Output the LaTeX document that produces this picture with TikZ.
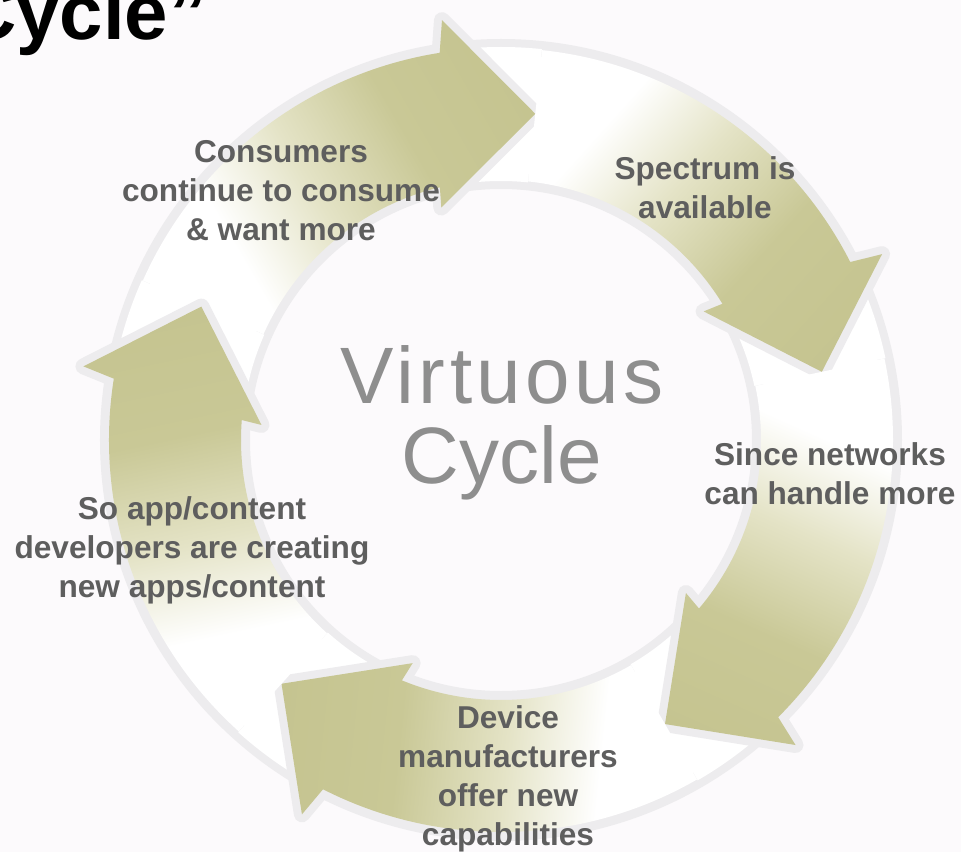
\documentclass[tikz,border=0pt]{standalone}
\usepackage{fontspec}
\setmainfont{Liberation Sans}
\definecolor{bg}{RGB}{252,250,252}
\definecolor{ringgrey}{RGB}{237,236,238}
\definecolor{olv}{RGB}{201,200,150}
\definecolor{olvlight}{RGB}{228,227,198}
\definecolor{olvdark}{RGB}{197,196,144}
\definecolor{lblgrey}{RGB}{94,94,94}
\definecolor{hubgrey}{RGB}{142,142,142}
% fade along each arrow: white at the tail, olive towards the head
\pgfdeclarehorizontalshading{arrowfade}{100bp}{color(0bp)=(white); color(40.2bp)=(white); color(47.2bp)=(olvlight); color(55.1bp)=(olv); color(64bp)=(olvdark); color(100bp)=(olvdark)}
\begin{document}
\begin{tikzpicture}[
  halo/.style={draw=ringgrey, line width=16pt, line join=round},
  lbl/.style={text=lblgrey, font=\bfseries\fontsize{31.6pt}{39pt}\selectfont, align=center, inner sep=0pt, anchor=base},
  hub/.style={text=hubgrey, font=\fontsize{80pt}{80pt}\selectfont, align=center, inner sep=0pt, anchor=base},
]
\useasboundingbox (-501pt,-412pt) rectangle (460pt,440pt);
\fill[bg] (-501pt,-412pt) rectangle (460pt,440pt);
% ring behind the arrows
\draw[ringgrey, line width=150pt] (0,0) circle[radius=326pt];
\draw[white, line width=134pt] (0,0) circle[radius=326pt];
% five curved arrows, given by the angle of their tips
\foreach \t/\n in {84/1,12/2,-60/3,-132/4,156/5}{
  \draw[halo] ({\t+72}:392pt) arc[start angle=\t+72, end angle=\t+15, radius=392pt]
     -- ({\t+14}:424pt) -- (\t:328pt) -- ({\t+20.4}:240pt) -- ({\t+19.6}:260pt)
     arc[start angle=\t+19.6, end angle=\t+72, radius=260pt];
  \begin{scope}
    \clip ({\t+72}:392pt) arc[start angle=\t+72, end angle=\t+15, radius=392pt]
     -- ({\t+14}:424pt) -- (\t:328pt) -- ({\t+20.4}:240pt) -- ({\t+19.6}:260pt)
     arc[start angle=\t+19.6, end angle=\t+72, radius=260pt] -- cycle;
    \begin{scope}[transform canvas={shift={({\t+72}:326pt)}, rotate=\t-54}]
      \shade[shading=arrowfade] (-150pt,-320pt) rectangle (534.4pt,320pt);
    \end{scope}
  \end{scope}
}
% labels (anchored at the baseline of their last line)
\node[lbl] (consume) at (-220pt,200pt) {Consumers\\continue to consume\\\& want more};
\node[lbl] (spectrum) at (204pt,222pt) {Spectrum is\\available};
\node[lbl] (networks) at (329pt,-64pt) {Since networks\\can handle more};
\node[lbl] (devices) at (7pt,-405pt) {Device\\manufacturers\\offer new\\capabilities};
\node[lbl] (apps) at (-309pt,-157pt) {So app/content\\developers are creating\\new apps/content};
\node[hub] (hub) at (1pt,-43pt) {{\addfontfeature{LetterSpace=5.5}Virtuous}\\Cycle};
\node[anchor=base west, inner sep=0pt, font=\bfseries\fontsize{78pt}{78pt}\selectfont] (title) at (-541pt,400pt) {Cycle”};
\end{tikzpicture}
\end{document}
